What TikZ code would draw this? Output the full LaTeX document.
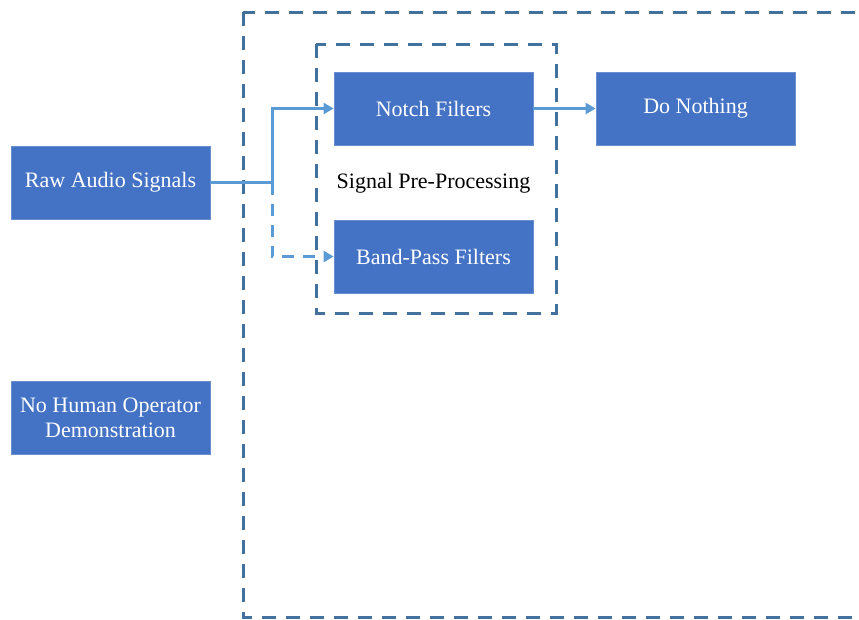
\documentclass[tikz,border=0pt]{standalone}
\usepackage{fontspec}
\setmainfont{Liberation Serif}
\usetikzlibrary{arrows.meta}
\definecolor{boxblue}{HTML}{4472C4}
\definecolor{framecol}{HTML}{41719C}
\definecolor{linkcol}{HTML}{5B9BD5}
\begin{document}
\begin{tikzpicture}[x=1pt,y=-1pt,
  block/.style={draw=boxblue!80!white, line width=0.8pt, fill=boxblue, text=white,
    minimum width=199pt, minimum height=73pt, inner sep=0pt, align=center,
    font=\fontsize{22}{25}\selectfont},
  group/.style={draw=framecol, line width=3pt, dash pattern=on 14pt off 10pt},
  link/.style={draw=linkcol, line width=3pt, -{Triangle[length=10pt,width=11pt]}},
  linkdash/.style={link, dash pattern=on 12pt off 9pt}]
\useasboundingbox (0,0) rectangle (859,619);
\clip (0,0) rectangle (859,619);
% frames
\draw[group] (243,12) rectangle (880,617);
\draw[group] (316,44) rectangle (556,313);
% blocks
\node[block] (raw) at (110.5,182.5) {Raw Audio Signals};
\node[block] (human) at (110.5,417.5) {No Human Operator\\Demonstration};
\node[block] (notch) at (433.5,108.5) {Notch Filters};
\node[block] (band) at (433.5,256.5) {Band-Pass Filters};
\node[block] (nothing) at (695.5,108.5) {Do Nothing};
\node[font=\fontsize{22}{25}\selectfont] (spp) at (433.5,183) {Signal Pre-Processing};
% connectors
\coordinate (split) at (272,182.5);
\draw[linkdash] (split) |- (band.west);
\draw[link] (raw.east) -- (split) |- (notch.west);
\draw[link] (notch.east) -- (nothing.west);
\end{tikzpicture}
\end{document}
